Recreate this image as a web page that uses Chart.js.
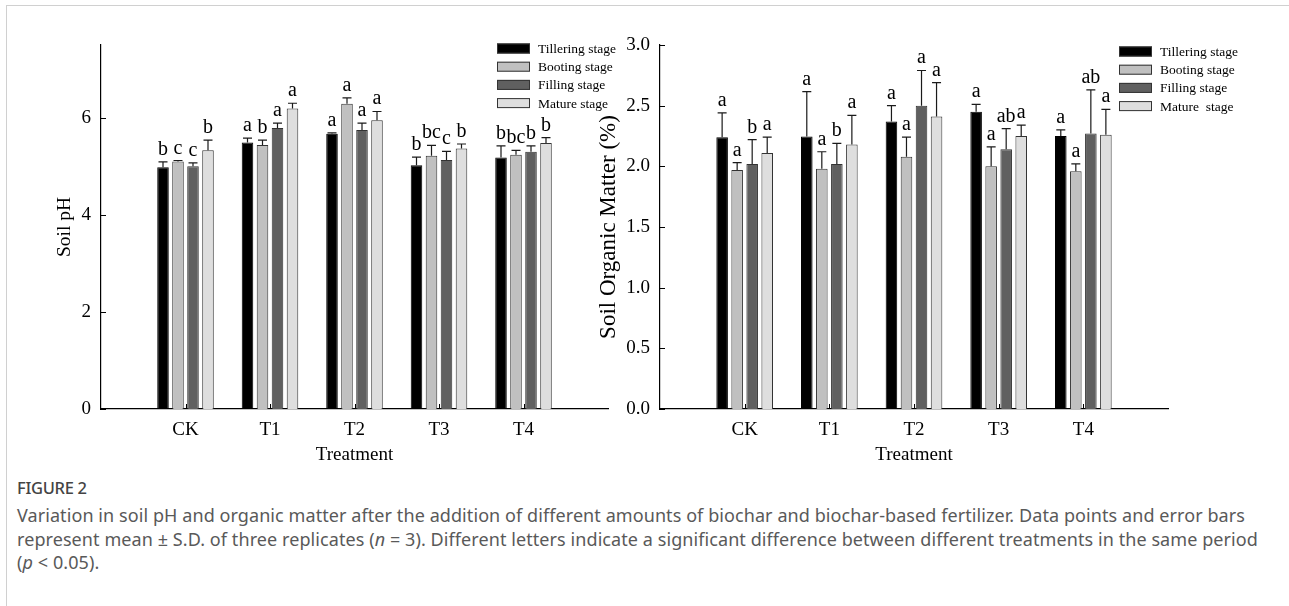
<!DOCTYPE html>
<html>
<head>
<meta charset="utf-8">
<script src="https://cdn.jsdelivr.net/npm/chart.js@4.4.1/dist/chart.umd.min.js"></script>
<style>
  html, body { margin: 0; padding: 0; background: #fff; }
  body { width: 1289px; height: 606px; position: relative; overflow: hidden; }
  .card { position: absolute; left: 6px; top: 5px; width: 1320px; height: 700px;
    border-top: 1px solid #d0d0d0; border-left: 1px solid #d0d0d0; }
  canvas { position: absolute; top: 0; }
  #phChart { left: 0; }
  #omChart { left: 560px; }
  .caption { position: absolute; left: 17px; top: 476px; font-family: "Noto Sans", sans-serif;
    color: #595959; white-space: nowrap; }
  .caption h4 { margin: 0 0 5px 0; font-size: 16.5px; font-weight: 500; color: #444; letter-spacing: -0.3px; }
  .caption p { margin: 0; font-size: 18px; line-height: 23.5px; letter-spacing: 0.08px; }
</style>
</head>
<body>
<div class="card"></div>
<canvas id="phChart" width="640" height="470"></canvas>
<canvas id="omChart" width="729" height="470"></canvas>
<div class="caption">
  <h4>FIGURE 2</h4>
  <p>Variation in soil pH and organic matter after the addition of different amounts of biochar and biochar-based fertilizer. Data points and error bars<br>
  represent mean ± S.D. of three replicates (<i>n</i> = 3). Different letters indicate a significant difference between different treatments in the same period<br>
  (<i>p</i> &lt; 0.05).</p>
</div>
<script>
const treatments = ["CK", "T1", "T2", "T3", "T4"];
const stageNames = ["Tillering stage", "Booting stage", "Filling stage", "Mature stage"];
const stageNamesOM = ["Tillering stage", "Booting stage", "Filling stage", "Mature  stage"];
const stageColors = ["#000000", "#c0c0c0", "#606060", "#dedede"];

// soil pH (CK, T1..T4)
const phTillering = [4.98, 5.49, 5.67, 5.02, 5.18];
const phBooting = [5.1, 5.44, 6.29, 5.22, 5.24];
const phFilling = [5.0, 5.79, 5.75, 5.13, 5.3];
const phMature = [5.33, 6.19, 5.95, 5.37, 5.48];
const phTilleringSD = [0.11, 0.09, 0.02, 0.17, 0.24];
const phBootingSD = [0.02, 0.1, 0.12, 0.21, 0.09];
const phFillingSD = [0.07, 0.1, 0.14, 0.18, 0.12];
const phMatureSD = [0.21, 0.11, 0.18, 0.09, 0.11];
const phTilleringSig = ["b", "a", "a", "b", "b"];
const phBootingSig = ["c", "b", "a", "bc", "bc"];
const phFillingSig = ["c", "a", "a", "c", "b"];
const phMatureSig = ["b", "a", "a", "b", "b"];
const phTicks = [0, 2, 4, 6];

// soil organic matter %
const omTillering = [2.24, 2.245, 2.37, 2.45, 2.25];
const omBooting = [1.97, 1.98, 2.08, 2.0, 1.96];
const omFilling = [2.02, 2.02, 2.5, 2.14, 2.27];
const omMature = [2.11, 2.18, 2.41, 2.25, 2.26];
const omTilleringSD = [0.2, 0.37, 0.13, 0.06, 0.05];
const omBootingSD = [0.06, 0.14, 0.16, 0.16, 0.06];
const omFillingSD = [0.2, 0.17, 0.29, 0.17, 0.36];
const omMatureSD = [0.13, 0.24, 0.28, 0.09, 0.21];
const omTilleringSig = ["a", "a", "a", "a", "a"];
const omBootingSig = ["a", "a", "a", "a", "a"];
const omFillingSig = ["b", "b", "a", "ab", "ab"];
const omMatureSig = ["a", "a", "a", "a", "a"];
const omTicks = [0, 0.5, 1.0, 1.5, 2.0, 2.5, 3.0];

const serif = "'Liberation Serif', 'Times New Roman', serif";

// error bars + significance letters
const errorBars = {
  id: "errorBars",
  afterDatasetsDraw(chart) {
    const ctx = chart.ctx;
    const y = chart.scales.y;
    ctx.save();
    chart.data.datasets.forEach((ds, i) => {
      chart.getDatasetMeta(i).data.forEach((bar, j) => {
        const top = y.getPixelForValue(ds.data[j].y + ds.sd[j]);
        ctx.strokeStyle = "#1a1a1a";
        ctx.lineWidth = 1.2;
        ctx.beginPath();
        ctx.moveTo(bar.x, bar.y);
        ctx.lineTo(bar.x, top);
        ctx.moveTo(bar.x - 4.5, top);
        ctx.lineTo(bar.x + 4.5, top);
        ctx.stroke();
        ctx.fillStyle = "#000";
        ctx.font = "20px " + serif;
        ctx.textAlign = "center";
        ctx.textBaseline = "alphabetic";
        ctx.fillText(ds.sig[j], bar.x, top - 7);
      });
    });
    ctx.restore();
  },
};

// inward tick marks
const innerTicks = {
  id: "innerTicks",
  afterDraw(chart) {
    const { ctx, chartArea, scales } = chart;
    ctx.save();
    ctx.strokeStyle = "#000";
    ctx.lineWidth = 1;
    ctx.beginPath();
    scales.y.ticks.forEach((t) => {
      const py = Math.round(scales.y.getPixelForValue(t.value)) + 0.5;
      ctx.moveTo(chartArea.left, py);
      ctx.lineTo(chartArea.left + 5, py);
    });
    scales.x.ticks.forEach((t) => {
      const px = Math.round(scales.x.getPixelForValue(t.value)) + 0.5;
      ctx.moveTo(px, chartArea.bottom);
      ctx.lineTo(px, chartArea.bottom - 5);
    });
    ctx.stroke();
    ctx.restore();
  },
};

const stageLegend = {
  id: "stageLegend",
  afterDraw(chart, args, opts) {
    const ctx = chart.ctx;
    ctx.save();
    ctx.font = "13.5px " + serif;
    ctx.textBaseline = "middle";
    ctx.textAlign = "left";
    chart.data.datasets.forEach((ds, i) => {
      const cy = opts.top + i * 18.2;
      ctx.fillStyle = ds.backgroundColor;
      ctx.fillRect(opts.left, cy - 5, 33, 10);
      ctx.strokeStyle = "#333";
      ctx.lineWidth = 1;
      ctx.strokeRect(opts.left + 0.5, cy - 4.5, 32, 9);
      ctx.fillStyle = "#000";
      ctx.fillText(opts.labels[i], opts.left + 41, cy + 1);
    });
    ctx.restore();
  },
};

function makeDatasets(values, sds, sigs) {
  return values.map((vals, i) => ({
    label: stageNames[i],
    data: treatments.map((t, k) => ({ x: k + 1, y: vals[k] })),
    sd: sds[i],
    sig: sigs[i],
    backgroundColor: stageColors[i],
    borderColor: i === 0 ? "#000" : "#333",
    borderWidth: 1,
    categoryPercentage: 0.71,
    barPercentage: 0.77,
  }));
}

function makeChart(id, cfg) {
  const axisFont = { family: serif, size: 19 };
  return new Chart(document.getElementById(id), {
    type: "bar",
    data: { datasets: makeDatasets(cfg.values, cfg.sds, cfg.sigs) },
    options: {
      responsive: false,
      animation: false,
      layout: { padding: { top: 45, right: cfg.padRight, left: 0, bottom: 0 } },
      plugins: {
        legend: { display: false },
        tooltip: { enabled: false },
        stageLegend: cfg.legend,
      },
      scales: {
        x: {
          type: "linear",
          offset: false,
          min: 0,
          max: 6,
          afterBuildTicks: (s) => {
            s.ticks = treatments.map((t, k) => ({ value: k + 1 }));
          },
          ticks: { callback: (v) => treatments[v - 1], font: axisFont, color: "#000", padding: 10, maxRotation: 0, autoSkip: false },
          grid: { display: false, drawTicks: false },
          border: { color: "#000", width: 1.2 },
          title: { display: true, text: "Treatment", font: axisFont, color: "#000", padding: { top: 0, bottom: 4 } },
          afterFit: (s) => { s.height = 61; },
        },
        y: {
          min: 0,
          max: cfg.yMax,
          afterBuildTicks: (s) => {
            s.ticks = cfg.ticks.map((v) => ({ value: v }));
          },
          ticks: { callback: cfg.tickFmt, font: axisFont, color: "#000", padding: 10 },
          grid: { display: false, drawTicks: false },
          border: { color: "#000", width: 1.2 },
          title: { display: true, text: cfg.yTitle, font: { family: serif, size: cfg.titleSize }, color: "#000", align: "center", padding: { top: cfg.titlePad } },
          afterFit: (s) => { s.width = cfg.yWidth; },
        },
      },
    },
    plugins: [errorBars, innerTicks, stageLegend],
  });
}

makeChart("phChart", {
  values: [phTillering, phBooting, phFilling, phMature],
  sds: [phTilleringSD, phBootingSD, phFillingSD, phMatureSD],
  sigs: [phTilleringSig, phBootingSig, phFillingSig, phMatureSig],
  ticks: phTicks,
  tickFmt: (v) => String(v),
  yMax: 7.5,
  yTitle: "Soil pH",
  titleSize: 19.5,
  titlePad: 53,
  yWidth: 101,
  padRight: 32,
  legend: { left: 497, top: 48.5, labels: stageNames },
});

makeChart("omChart", {
  values: [omTillering, omBooting, omFilling, omMature],
  sds: [omTilleringSD, omBootingSD, omFillingSD, omMatureSD],
  sigs: [omTilleringSig, omBootingSig, omFillingSig, omMatureSig],
  ticks: omTicks,
  tickFmt: (v) => v.toFixed(1),
  yMax: 3.0,
  yTitle: "Soil Organic Matter (%)",
  titleSize: 23,
  titlePad: 35,
  yWidth: 100,
  padRight: 121,
  legend: { left: 559, top: 51.5, labels: stageNamesOM },
});
</script>
</body>
</html>
